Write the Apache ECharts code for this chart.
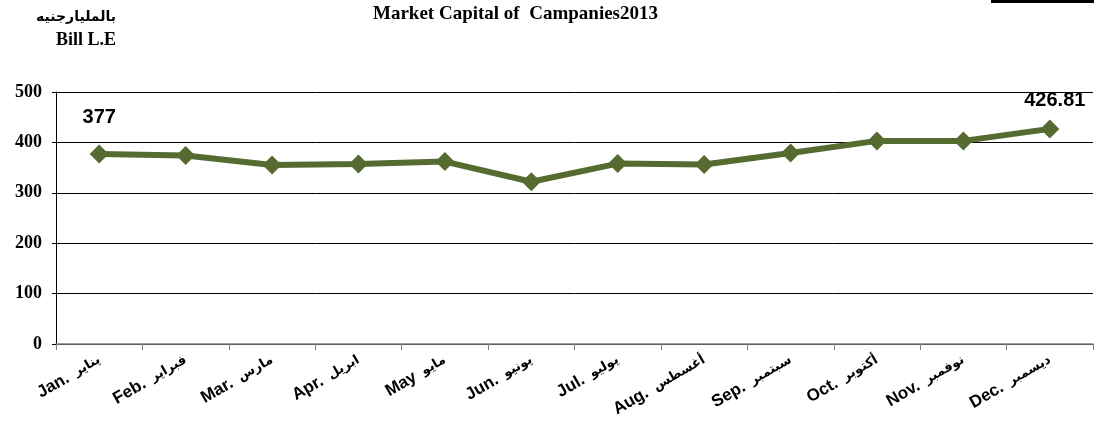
<!DOCTYPE html>
<html>
<head>
<meta charset="utf-8">
<script src="https://cdn.jsdelivr.net/npm/echarts@6/dist/echarts.min.js"></script>
<style>
    body { margin: 0; background: #fff; }
    #main { width: 1094px; height: 422px; }
</style>
</head>
<body>
<div id="main"></div>
<script>
    // 月份 (英文 + 阿拉伯文)
    var months = ['Jan. يناير', 'Feb. فبراير', 'Mar. مارس', 'Apr. ابريل', 'May مايو', 'Jun. يونيو',
        'Jul. يوليو', 'Aug. أغسطس', 'Sep. سبتمبر', 'Oct. أكتوبر', 'Nov. نوفمبر', 'Dec. ديسمبر'];
    // 市值 (bill L.E)
    var marketCap = [377, 374, 355, 357, 362, 322, 358, 356, 379, 403, 403, 426.81];
    // 只标注首尾
    var labelled = [0, 11];
    var yTicks = [0, 100, 200, 300, 400, 500];

    var olive = '#556b2f';

    var chart = echarts.init(document.getElementById('main'));
    chart.setOption({
        backgroundColor: '#fff',
        animation: false,
        title: {
            text: 'Market Capital of  Campanies2013',
            left: 368,
            top: 0,
            textStyle: { fontFamily: 'Liberation Serif', fontWeight: 'bold', fontSize: 19, color: '#000' }
        },
        graphic: [
            {
                type: 'text', x: 116, y: 10,
                style: { text: 'بالمليارجنيه', textAlign: 'right', font: 'bold 14px "DejaVu Sans"', fill: '#000' }
            },
            {
                type: 'text', x: 116, y: 31,
                style: { text: 'Bill L.E', textAlign: 'right', font: 'bold 18px "Liberation Serif"', fill: '#000' }
            },
            { type: 'rect', shape: { x: 991, y: 0, width: 103, height: 3 }, style: { fill: '#000' } }
        ],
        grid: { left: 56, right: 1, top: 92, bottom: 78 },
        xAxis: {
            type: 'category',
            data: months,
            boundaryGap: true,
            axisLine: { show: true, lineStyle: { color: '#808080', width: 1.5 } },
            axisTick: { show: true, length: 6, lineStyle: { color: '#808080' } },
            axisLabel: {
                interval: 0,
                rotate: 30,
                margin: 15,
                color: '#000',
                formatter: function (v) {
                    var k = v.indexOf(' ');
                    return '{en|' + v.slice(0, k) + '}{ar|' + v.slice(k + 1) + '}';
                },
                rich: {
                    en: { fontFamily: 'Liberation Sans', fontWeight: 'bold', fontSize: 17, color: '#000' },
                    ar: { fontFamily: 'DejaVu Sans', fontWeight: 'bold', fontSize: 13, color: '#000', padding: [0, 0, 0, 8] }
                }
            },
            splitLine: { show: false }
        },
        yAxis: {
            type: 'value',
            min: yTicks[0],
            max: yTicks[yTicks.length - 1],
            interval: 100,
            axisLine: { show: true, lineStyle: { color: '#000', width: 1 } },
            axisTick: { show: true, length: 4, lineStyle: { color: '#000' } },
            axisLabel: {
                margin: 14,
                fontFamily: 'Liberation Serif',
                fontWeight: 'bold',
                fontSize: 18,
                color: '#000'
            },
            splitLine: { show: true, lineStyle: { color: '#000', width: 1 } }
        },
        series: [
            {
                type: 'line',
                data: marketCap.map(function (v, i) {
                    return {
                        value: v,
                        label: {
                            show: labelled.indexOf(i) >= 0,
                            distance: i === 0 ? 17 : 9,
                            offset: i === 0 ? [0, 0] : [5, 0]
                        }
                    };
                }),
                symbol: 'diamond',
                symbolSize: 19,
                lineStyle: { color: olive, width: 6 },
                itemStyle: { color: olive },
                label: {
                    position: 'top',
                    fontFamily: 'Liberation Sans',
                    fontWeight: 'bold',
                    fontSize: 20,
                    color: '#000',
                    formatter: function (p) { return p.value; }
                },
                z: 5
            }
        ]
    });
</script>
</body>
</html>
